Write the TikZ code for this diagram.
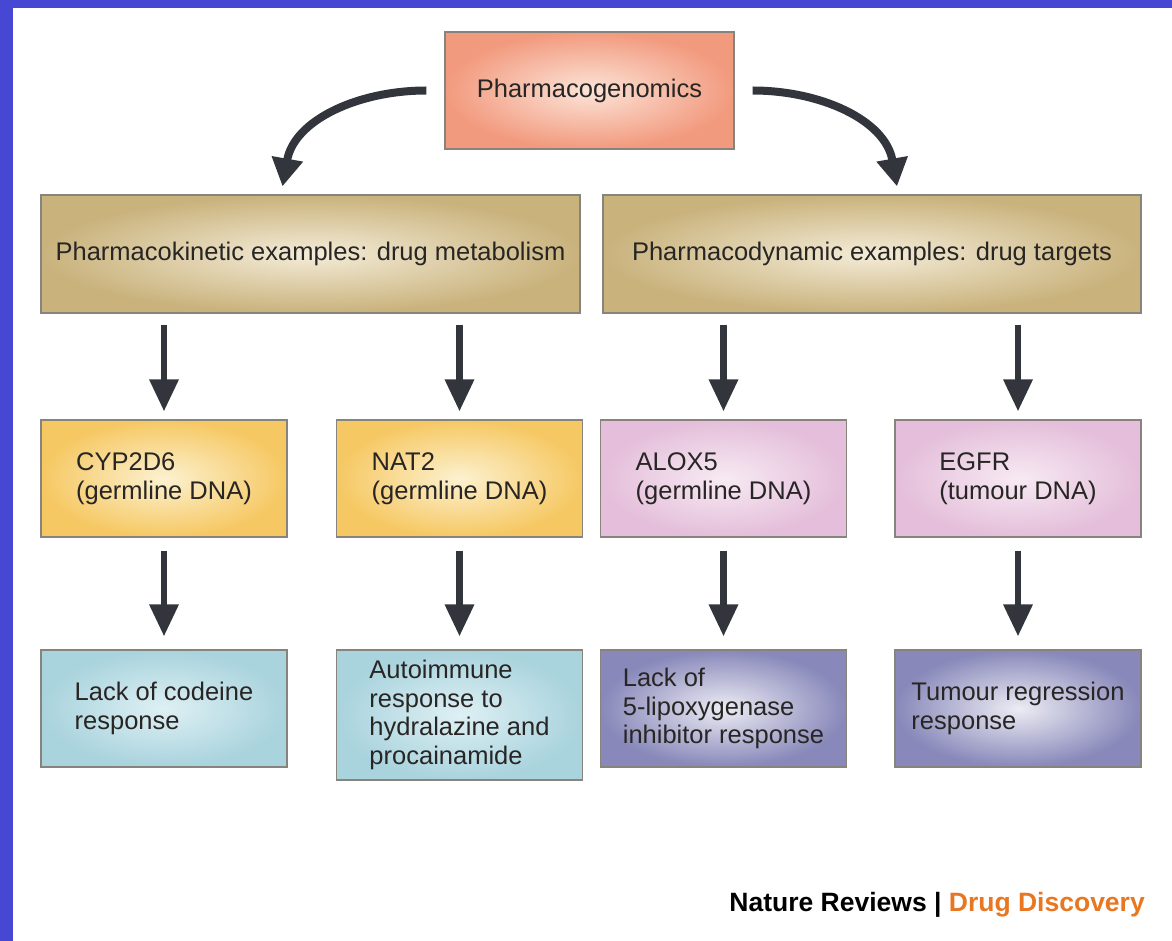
\documentclass[tikz,border=0pt]{standalone}
\usepackage{fontspec}
\setmainfont{Liberation Sans}
\usetikzlibrary{arrows.meta}
\definecolor{frameblue}{RGB}{70,72,212}
\definecolor{arrowgray}{RGB}{50,54,60}
\definecolor{boxline}{RGB}{135,132,125}
\definecolor{textgray}{RGB}{40,38,36}
\definecolor{natorange}{RGB}{232,119,34}
\begin{document}
\begin{tikzpicture}[x=1pt,y=-1pt,
  box/.style={draw=boxline, line width=1.2pt, shade, minimum width=246pt, minimum height=117pt,
    inner sep=0pt, align=left, text=textgray, font=\fontsize{25.5}{28.5}\selectfont},
  salmon/.style={inner color={rgb,255:red,252;green,228;blue,216}, outer color={rgb,255:red,242;green,154;blue,126}},
  sand/.style={inner color={rgb,255:red,244;green,236;blue,216}, outer color={rgb,255:red,201;green,178;blue,124}},
  amber/.style={inner color={rgb,255:red,252;green,241;blue,208}, outer color={rgb,255:red,246;green,200;blue,99}},
  rosy/.style={inner color={rgb,255:red,247;green,234;blue,243}, outer color={rgb,255:red,228;green,190;blue,218}},
  aqua/.style={inner color={rgb,255:red,222;green,240;blue,244}, outer color={rgb,255:red,169;green,211;blue,221}},
  lilac/.style={inner color={rgb,255:red,236;green,236;blue,244}, outer color={rgb,255:red,136;green,136;blue,186}},
  down/.style={draw=arrowgray, line width=6.5pt, -{Triangle[width=28pt,length=32pt]}},
  curvearrow/.style={draw=arrowgray, line width=8pt, -{Triangle[width=30pt,length=28pt]}}]
\path[use as bounding box] (0,0) rectangle (1172,941);
\fill[white] (0,0) rectangle (1172,941);
\fill[frameblue] (0,0) rectangle (1172,8);
\fill[frameblue] (0,0) rectangle (13,941);

\node[box, salmon, minimum width=289pt] (gen) at (589.5,90.5) {Pharmacogenomics};
\node[box, sand, minimum width=539pt, minimum height=118pt] (kin) at (310.5,254) {Pharmacokinetic examples: drug metabolism};
\node[box, sand, minimum width=538pt, minimum height=118pt] (dyn) at (872,254) {Pharmacodynamic examples: drug targets};

\node[box, amber] (cyp) at (164,478.5) {CYP2D6\\(germline DNA)};
\node[box, amber] (nat) at (459.5,478.5) {NAT2\\(germline DNA)};
\node[box, rosy] (alox) at (723.5,478.5) {ALOX5\\(germline DNA)};
\node[box, rosy] (egfr) at (1018,478.5) {EGFR\\(tumour DNA)};

\node[box, aqua] (cod) at (164,708.5) {Lack of codeine\\response};
\node[box, aqua, minimum height=130pt] (auto) at (459.5,715) {Autoimmune\\response to\\hydralazine and\\procainamide};
\node[box, lilac] (lip) at (723.5,708.5) {Lack of\\5-lipoxygenase\\inhibitor response};
\node[box, lilac] (tum) at (1018,708.5) {Tumour regression\\response};

\draw[curvearrow] ([xshift=-18pt]gen.west) to[out=180,in=80] ([xshift=-28pt,yshift=8pt]kin.north);
\draw[curvearrow] ([xshift=18pt]gen.east) to[out=0,in=100] ([xshift=25pt,yshift=8pt]dyn.north);

\foreach \a/\b in {cyp/kin, nat/kin, alox/dyn, egfr/dyn}
  \draw[down, shorten <=11pt, shorten >=8pt] (\a.north |- \b.south) -- (\a.north);
\foreach \a/\b in {cyp/cod, nat/auto, alox/lip, egfr/tum}
  \draw[down, shorten <=13pt, shorten >=13pt] (\a.south) -- (\b.north);

\node[anchor=east, inner sep=0pt, font=\bfseries\fontsize{26.5}{30}\selectfont] (credit) at (1145,905)
  {Nature Reviews | \textcolor{natorange}{Drug Discovery}};
\end{tikzpicture}
\end{document}
